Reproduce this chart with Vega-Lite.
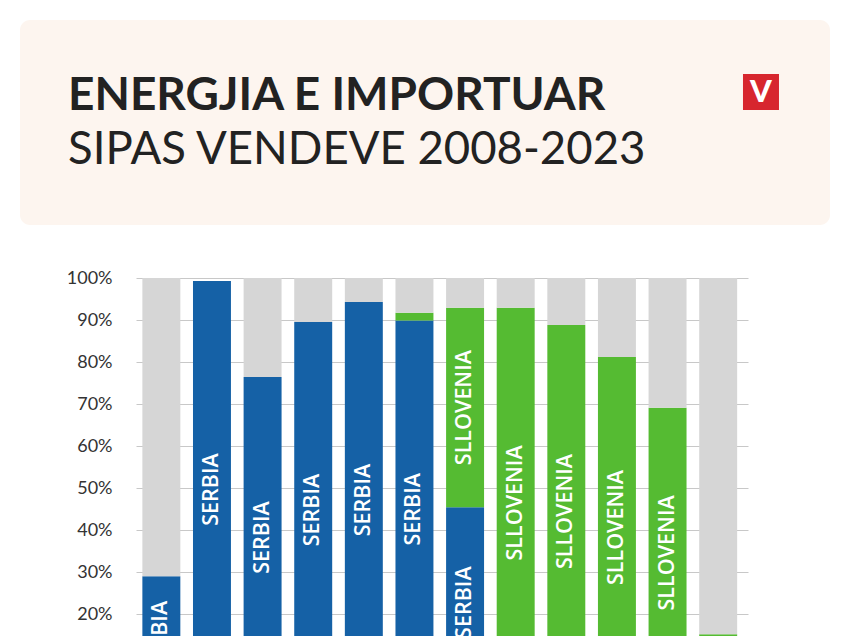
{
  "$schema": "https://vega.github.io/schema/vega-lite/v6.json",
  "background": "white",
  "padding": {"left": 20, "top": 20, "right": 0, "bottom": 0},
  "spacing": 44,
  "config": {"font": "Lato"},
  "vconcat": [
    {
      "width": 810,
      "height": 205,
      "view": {"fill": "#fdf5ef", "stroke": null, "cornerRadius": 10},
      "title": {
        "text": "ENERGJIA E IMPORTUAR",
        "subtitle": "SIPAS VENDEVE 2008-2023",
        "anchor": "start",
        "frame": "group",
        "dx": 48,
        "offset": -154,
        "font": "Lato",
        "fontSize": 46,
        "fontWeight": "bold",
        "color": "#222222",
        "subtitleFont": "Lato",
        "subtitleFontSize": 45.5,
        "subtitleFontWeight": "normal",
        "subtitleColor": "#222222",
        "subtitlePadding": 8
      },
      "data": {"values": [{"brand": "V"}]},
      "layer": [
        {
          "mark": {"type": "point", "shape": "square", "size": 1296, "filled": true, "color": "#d7262e", "opacity": 1},
          "encoding": {
            "x": {"datum": 0.9148, "type": "quantitative", "scale": {"domain": [0, 1]}, "axis": null},
            "y": {"datum": 0.6488, "type": "quantitative", "scale": {"domain": [0, 1]}, "axis": null}
          }
        },
        {
          "mark": {"type": "text", "color": "white", "fontSize": 31, "fontWeight": 900, "font": "Lato", "baseline": "middle", "align": "center", "dy": 1},
          "encoding": {
            "x": {"datum": 0.9148, "type": "quantitative", "scale": {"domain": [0, 1]}, "axis": null},
            "y": {"datum": 0.6488, "type": "quantitative", "scale": {"domain": [0, 1]}, "axis": null},
            "text": {"field": "brand"}
          }
        }
      ]
    },
    {
      "spacing": 0,
      "hconcat": [
        {
          "width": 1,
          "height": 420,
          "view": {"stroke": null},
          "data": {"values": []},
          "mark": "point"
        },
        {
          "width": 612,
          "height": 420,
          "view": {"stroke": null},
          "data": {
            "values": [
              {"year": "2012", "country": "SERBIA", "value": 29.0},
              {"year": "2012", "country": "TJERA", "value": 71.0},
              {"year": "2013", "country": "SERBIA", "value": 99.3},
              {"year": "2014", "country": "SERBIA", "value": 76.4},
              {"year": "2014", "country": "TJERA", "value": 23.6},
              {"year": "2015", "country": "SERBIA", "value": 89.5},
              {"year": "2015", "country": "TJERA", "value": 10.5},
              {"year": "2016", "country": "SERBIA", "value": 94.3},
              {"year": "2016", "country": "TJERA", "value": 5.7},
              {"year": "2017", "country": "SERBIA", "value": 89.9},
              {"year": "2017", "country": "SLLOVENIA", "value": 1.8},
              {"year": "2017", "country": "TJERA", "value": 8.3},
              {"year": "2018", "country": "SERBIA", "value": 45.4},
              {"year": "2018", "country": "SLLOVENIA", "value": 47.5},
              {"year": "2018", "country": "TJERA", "value": 7.1},
              {"year": "2019", "country": "SLLOVENIA", "value": 92.9},
              {"year": "2019", "country": "TJERA", "value": 7.1},
              {"year": "2020", "country": "SLLOVENIA", "value": 88.8},
              {"year": "2020", "country": "TJERA", "value": 11.2},
              {"year": "2021", "country": "SLLOVENIA", "value": 81.2},
              {"year": "2021", "country": "TJERA", "value": 18.8},
              {"year": "2022", "country": "SLLOVENIA", "value": 69.1},
              {"year": "2022", "country": "TJERA", "value": 30.9},
              {"year": "2023", "country": "SLLOVENIA", "value": 15.2},
              {"year": "2023", "country": "TJERA", "value": 84.8}
            ]
          },
          "encoding": {
            "x": {
              "field": "year",
              "type": "ordinal",
              "scale": {"paddingInner": 0.25, "paddingOuter": 0.17, "align": 0.37},
              "axis": {"title": null, "domain": false, "ticks": false, "labelAngle": 0, "labelFontSize": 16, "labelColor": "#333333", "labelPadding": 10}
            }
          },
          "layer": [
            {
              "mark": {"type": "bar"},
              "encoding": {
                "y": {
                  "field": "value",
                  "type": "quantitative",
                  "stack": "zero",
                  "scale": {"domain": [0, 100], "nice": false},
                  "axis": {
                    "title": null,
                    "values": [0, 10, 20, 30, 40, 50, 60, 70, 80, 90, 100],
                    "labelExpr": "datum.value + '%'",
                    "domain": false,
                    "ticks": false,
                    "labelPadding": 24,
                    "labelFontSize": 18,
                    "labelColor": "#333333",
                    "labelFont": "Lato",
                    "gridColor": "#c8c8c8",
                    "gridWidth": 1,
                    "minExtent": 115
                  }
                },
                "color": {
                  "field": "country",
                  "type": "nominal",
                  "scale": {"domain": ["SERBIA", "SLLOVENIA", "TJERA"], "range": ["#1561a6", "#55bb32", "#d6d6d6"]},
                  "legend": null
                },
                "order": {"field": "country", "sort": "ascending"}
              }
            },
            {
              "transform": [
                {"stack": "value", "groupby": ["year"], "sort": [{"field": "country", "order": "ascending"}], "as": ["v0", "v1"]},
                {"filter": "datum.country != 'TJERA' && datum.value > 20"},
                {"calculate": "(datum.v0 + datum.v1) / 2", "as": "mid"}
              ],
              "mark": {"type": "text", "angle": 270, "color": "white", "font": "Open Sans", "fontWeight": 600, "fontSize": 21.5, "align": "center", "baseline": "middle"},
              "encoding": {
                "y": {"field": "mid", "type": "quantitative"},
                "text": {"field": "country"}
              }
            }
          ]
        }
      ]
    }
  ]
}
